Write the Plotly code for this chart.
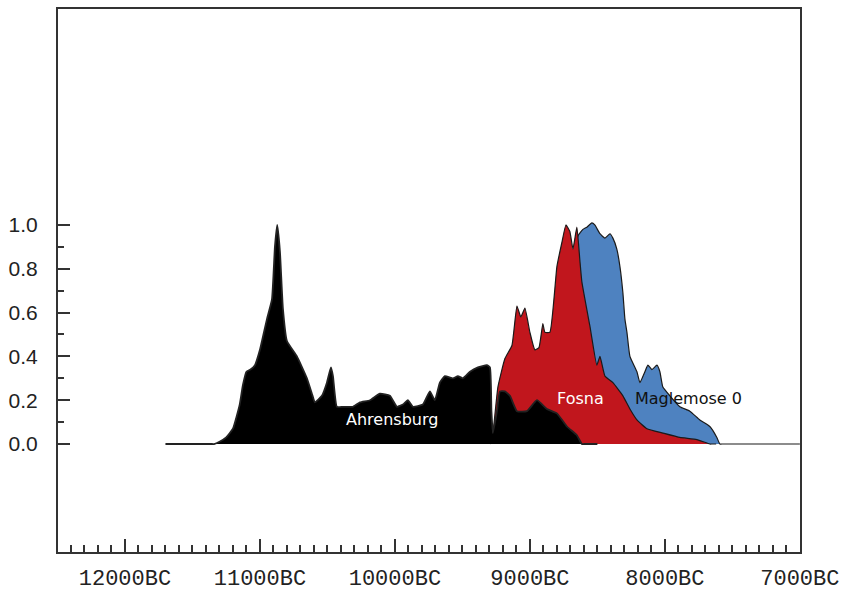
import plotly.graph_objects as go

# Ahrensburg (black)
ahr_x = [-11700, -11450, -11360, -11340, -11300, -11250, -11200, -11150, -11126, -11100,
         -11070, -11037, -11000, -10948, -10911, -10889, -10872, -10852, -10830, -10800,
         -10726, -10652, -10610, -10593, -10541, -10504, -10474, -10459, -10430, -10385,
         -10311, -10259, -10185, -10111, -10037, -9985, -9941, -9904, -9867, -9793,
         -9741, -9704, -9667, -9630, -9570, -9533, -9496, -9444, -9385, -9319,
         -9296, -9285, -9274, -9244, -9222, -9185, -9148, -9096, -9022, -8948,
         -8874, -8800, -8726, -8652, -8615, -8600, -8550, -8500]
ahr_y = [0.0, 0.0, 0.0, 0.0, 0.01, 0.03, 0.07, 0.18, 0.27, 0.33,
         0.34, 0.36, 0.43, 0.57, 0.66, 0.90, 1.0, 0.88, 0.62, 0.47,
         0.40, 0.30, 0.22, 0.19, 0.22, 0.28, 0.35, 0.31, 0.17, 0.17,
         0.17, 0.19, 0.20, 0.23, 0.22, 0.17, 0.18, 0.20, 0.17, 0.18,
         0.24, 0.20, 0.28, 0.31, 0.30, 0.31, 0.30, 0.33, 0.35, 0.36,
         0.35, 0.15, 0.05, 0.15, 0.24, 0.24, 0.22, 0.15, 0.15, 0.20,
         0.16, 0.14, 0.08, 0.04, 0.0, 0.0, 0.0, 0.0]

# Fosna (red)
fos_x = [-9296, -9274, -9237, -9185, -9133, -9096, -9067, -9037, -9000, -8963,
         -8933, -8904, -8889, -8852, -8800, -8763, -8733, -8704, -8681, -8652,
         -8630, -8615, -8556, -8504, -8481, -8444, -8385, -8311, -8259, -8207,
         -8133, -8015, -7889, -7763, -7667, -7650, -7620]
fos_y = [0.0, 0.05, 0.26, 0.39, 0.45, 0.63, 0.58, 0.62, 0.51, 0.43,
         0.44, 0.55, 0.51, 0.51, 0.81, 0.92, 1.0, 0.97, 0.89, 0.99,
         0.84, 0.74, 0.54, 0.36, 0.40, 0.31, 0.28, 0.22, 0.16, 0.11,
         0.07, 0.05, 0.03, 0.02, 0.0, 0.0, 0.0]

# Maglemose 0 (blue)
mag_x = [-8778, -8667, -8644, -8607, -8578, -8541, -8519, -8481, -8444, -8407,
         -8385, -8356, -8333, -8311, -8296, -8281, -8259, -8207, -8185, -8148,
         -8126, -8096, -8059, -8037, -8015, -7963, -7889, -7815, -7741, -7667,
         -7615, -7593, -7580, -7560, -7500, -7000]
mag_y = [0.0, 0.85, 0.95, 0.98, 0.99, 1.01, 1.0, 0.96, 0.94, 0.96,
         0.94, 0.89, 0.81, 0.69, 0.57, 0.51, 0.40, 0.33, 0.28, 0.33,
         0.36, 0.34, 0.36, 0.33, 0.26, 0.22, 0.17, 0.15, 0.11, 0.08,
         0.03, 0.0, 0.0, 0.0, 0.0, 0.0]

x_tickvals = [-12000, -11000, -10000, -9000, -8000, -7000]
x_ticktext = ["12000BC", "11000BC", "10000BC", "9000BC", "8000BC", "7000BC"]
x_minor = [v for v in range(-12400, -7000, 100) if v % 1000 != 0]
y_tickvals = [0.0, 0.2, 0.4, 0.6, 0.8, 1.0]
y_ticktext = ["0.0", "0.2", "0.4", "0.6", "0.8", "1.0"]
y_minor = [0.1, 0.3, 0.5, 0.7, 0.9]

labels = [("Ahrensburg", -10022, 0.114, "white"),
          ("Fosna", -8622, 0.21, "white"),
          ("Maglemose 0", -7822, 0.21, "#111111")]

fig = go.Figure()
fig.add_trace(go.Scatter(x=mag_x, y=mag_y, fill="tozeroy", mode="lines",
                         line=dict(color="#1a1a1a", width=1.2, shape="spline", smoothing=0.4),
                         fillcolor="#4e82c0", showlegend=False, hoverinfo="skip"))
fig.add_trace(go.Scatter(x=fos_x, y=fos_y, fill="tozeroy", mode="lines",
                         line=dict(color="#1a1a1a", width=1.2, shape="spline", smoothing=0.4),
                         fillcolor="#c1161d", showlegend=False, hoverinfo="skip"))
fig.add_trace(go.Scatter(x=ahr_x, y=ahr_y, fill="tozeroy", mode="lines",
                         line=dict(color="#222222", width=1.8, shape="spline", smoothing=0.4),
                         fillcolor="#000000", showlegend=False, hoverinfo="skip"))

for txt, lx, ly, col in labels:
    fig.add_annotation(x=lx, y=ly, text=txt, showarrow=False,
                       font=dict(family="DejaVu Sans", size=16, color=col))

fig.update_layout(
    width=845, height=595,
    margin=dict(l=58, r=45, t=9, b=43, autoexpand=False),
    paper_bgcolor="white", plot_bgcolor="white",
    showlegend=False,
)
fig.update_xaxes(
    range=[-12496, -6999], tickvals=x_tickvals, ticktext=x_ticktext,
    ticks="inside", ticklen=13, tickwidth=1.5, tickcolor="#333333",
    minor=dict(tickvals=x_minor, ticks="inside", ticklen=7, tickwidth=1.5, tickcolor="#333333"),
    showline=True, linecolor="#333333", linewidth=2, mirror=True,
    showgrid=False, zeroline=False, automargin=False,
    tickfont=dict(family="Liberation Mono", size=22, color="#222222"),
    ticklabelstandoff=5,
)
fig.update_yaxes(
    range=[-0.493, 1.986], tickvals=y_tickvals, ticktext=y_ticktext,
    ticks="inside", ticklen=12, tickwidth=1.5, tickcolor="#333333",
    minor=dict(tickvals=y_minor, ticks="inside", ticklen=6, tickwidth=1.5, tickcolor="#333333"),
    showline=True, linecolor="#333333", linewidth=2, mirror=True,
    showgrid=False, zeroline=False, automargin=False,
    tickfont=dict(family="Liberation Sans", size=21, color="#222222"),
    ticklabelstandoff=14,
)

fig.write_html("out.html")
